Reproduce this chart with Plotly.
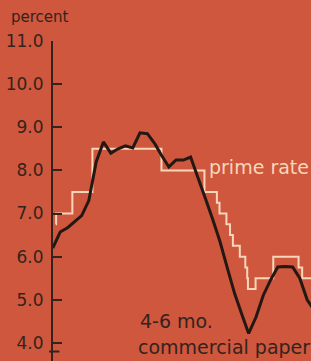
import plotly.graph_objects as go

# 4-6 month commercial paper rate (monthly averages, percent)
cp_dates = ["1968-12-25", "1969-01-25", "1969-02-25", "1969-03-25", "1969-04-25", "1969-05-25",
            "1969-06-25", "1969-07-25", "1969-08-25", "1969-09-25", "1969-10-25", "1969-11-25",
            "1969-12-25", "1970-01-25", "1970-02-25", "1970-03-25", "1970-04-25", "1970-05-25",
            "1970-06-25", "1970-07-25", "1970-08-25", "1970-09-25", "1970-10-25", "1970-11-25",
            "1970-12-25", "1971-01-25", "1971-02-25", "1971-03-25", "1971-04-25", "1971-05-25",
            "1971-06-25", "1971-07-25", "1971-08-25", "1971-09-25", "1971-10-25", "1971-11-25",
            "1971-12-25"]
cp_values = [6.20, 6.57, 6.67, 6.80, 6.95, 7.30,
             8.20, 8.66, 8.40, 8.50, 8.57, 8.52,
             8.87, 8.85, 8.62, 8.35, 8.08, 8.24,
             8.24, 8.31, 7.85, 7.35, 6.87, 6.35,
             5.75, 5.15, 4.65, 4.22, 4.60, 5.10,
             5.46, 5.76, 5.77, 5.76, 5.50, 5.00,
             4.75]

# Prime rate (step changes, percent)
prime_dates = ["1969-01-07", "1969-01-08", "1969-03-17", "1969-06-09", "1970-03-25", "1970-09-21",
               "1970-11-12", "1970-11-23", "1970-12-22", "1971-01-06", "1971-01-18", "1971-02-16",
               "1971-03-11", "1971-03-19", "1971-03-22", "1971-04-23", "1971-07-06", "1971-10-20",
               "1971-11-04", "1971-12-31"]
prime_values = [6.75, 7.00, 7.50, 8.50, 8.00, 7.50,
                7.25, 7.00, 6.75, 6.50, 6.25, 6.00,
                5.75, 5.50, 5.25, 5.50, 6.00, 5.75,
                5.50, 5.50]

y_ticks = [4, 5, 6, 7, 8, 9, 10, 11]
y_tick_labels = ["4.0", "5.0", "6.0", "7.0", "8.0", "9.0", "10.0", "11.0"]

BG = "#ce573e"
INK = "#34231c"
CREAM = "#f7d6ba"
FONT = "DejaVu Sans"

fig = go.Figure()
fig.add_trace(go.Scatter(x=prime_dates, y=prime_values, mode="lines",
                         line=dict(color=CREAM, width=2, shape="hv"),
                         hoverinfo="skip", showlegend=False))
fig.add_trace(go.Scatter(x=cp_dates, y=cp_values, mode="lines",
                         line=dict(color="#251814", width=3),
                         hoverinfo="skip", showlegend=False))

fig.update_layout(
    width=311, height=361,
    margin=dict(l=53, r=0, t=41, b=0),
    paper_bgcolor=BG, plot_bgcolor=BG,
    font=dict(family=FONT, color=INK),
    xaxis=dict(type="date", range=["1968-12-26", "1971-12-11"], visible=False, fixedrange=True),
    yaxis=dict(range=[3.58, 11.0], tickvals=y_ticks, ticktext=y_tick_labels,
               ticks="inside", ticklen=9, tickwidth=2, tickcolor=INK,
               showline=True, linecolor=INK, linewidth=2, showgrid=False, zeroline=False,
               tickfont=dict(family=FONT, size=17, color=INK), ticklabelstandoff=4,
               fixedrange=True),
    annotations=[
        dict(text="percent", xref="paper", yref="paper", x=-0.172, y=1.075,
             xanchor="left", yanchor="middle", showarrow=False,
             font=dict(family=FONT, size=15, color=INK)),
        dict(text="prime rate", xref="paper", yref="y", x=0.597, y=8.08,
             xanchor="left", yanchor="middle", showarrow=False,
             font=dict(family=FONT, size=19, color=CREAM)),
        dict(text="4-6 mo.", xref="paper", yref="paper", x=0.33, y=0.125,
             xanchor="left", yanchor="middle", showarrow=False,
             font=dict(family=FONT, size=19, color=INK)),
        dict(text="commercial paper", xref="paper", yref="paper", x=0.322, y=0.045,
             xanchor="left", yanchor="middle", showarrow=False,
             font=dict(family=FONT, size=19, color=INK)),
    ],
    shapes=[dict(type="line", xref="paper", yref="y", x0=-0.015, x1=0.025, y0=3.8, y1=3.8,
                 line=dict(color=INK, width=2))],
)

fig.write_html("out.html", config={"displayModeBar": False},
               post_script="document.body.style.margin='0';document.body.style.overflow='hidden';")
